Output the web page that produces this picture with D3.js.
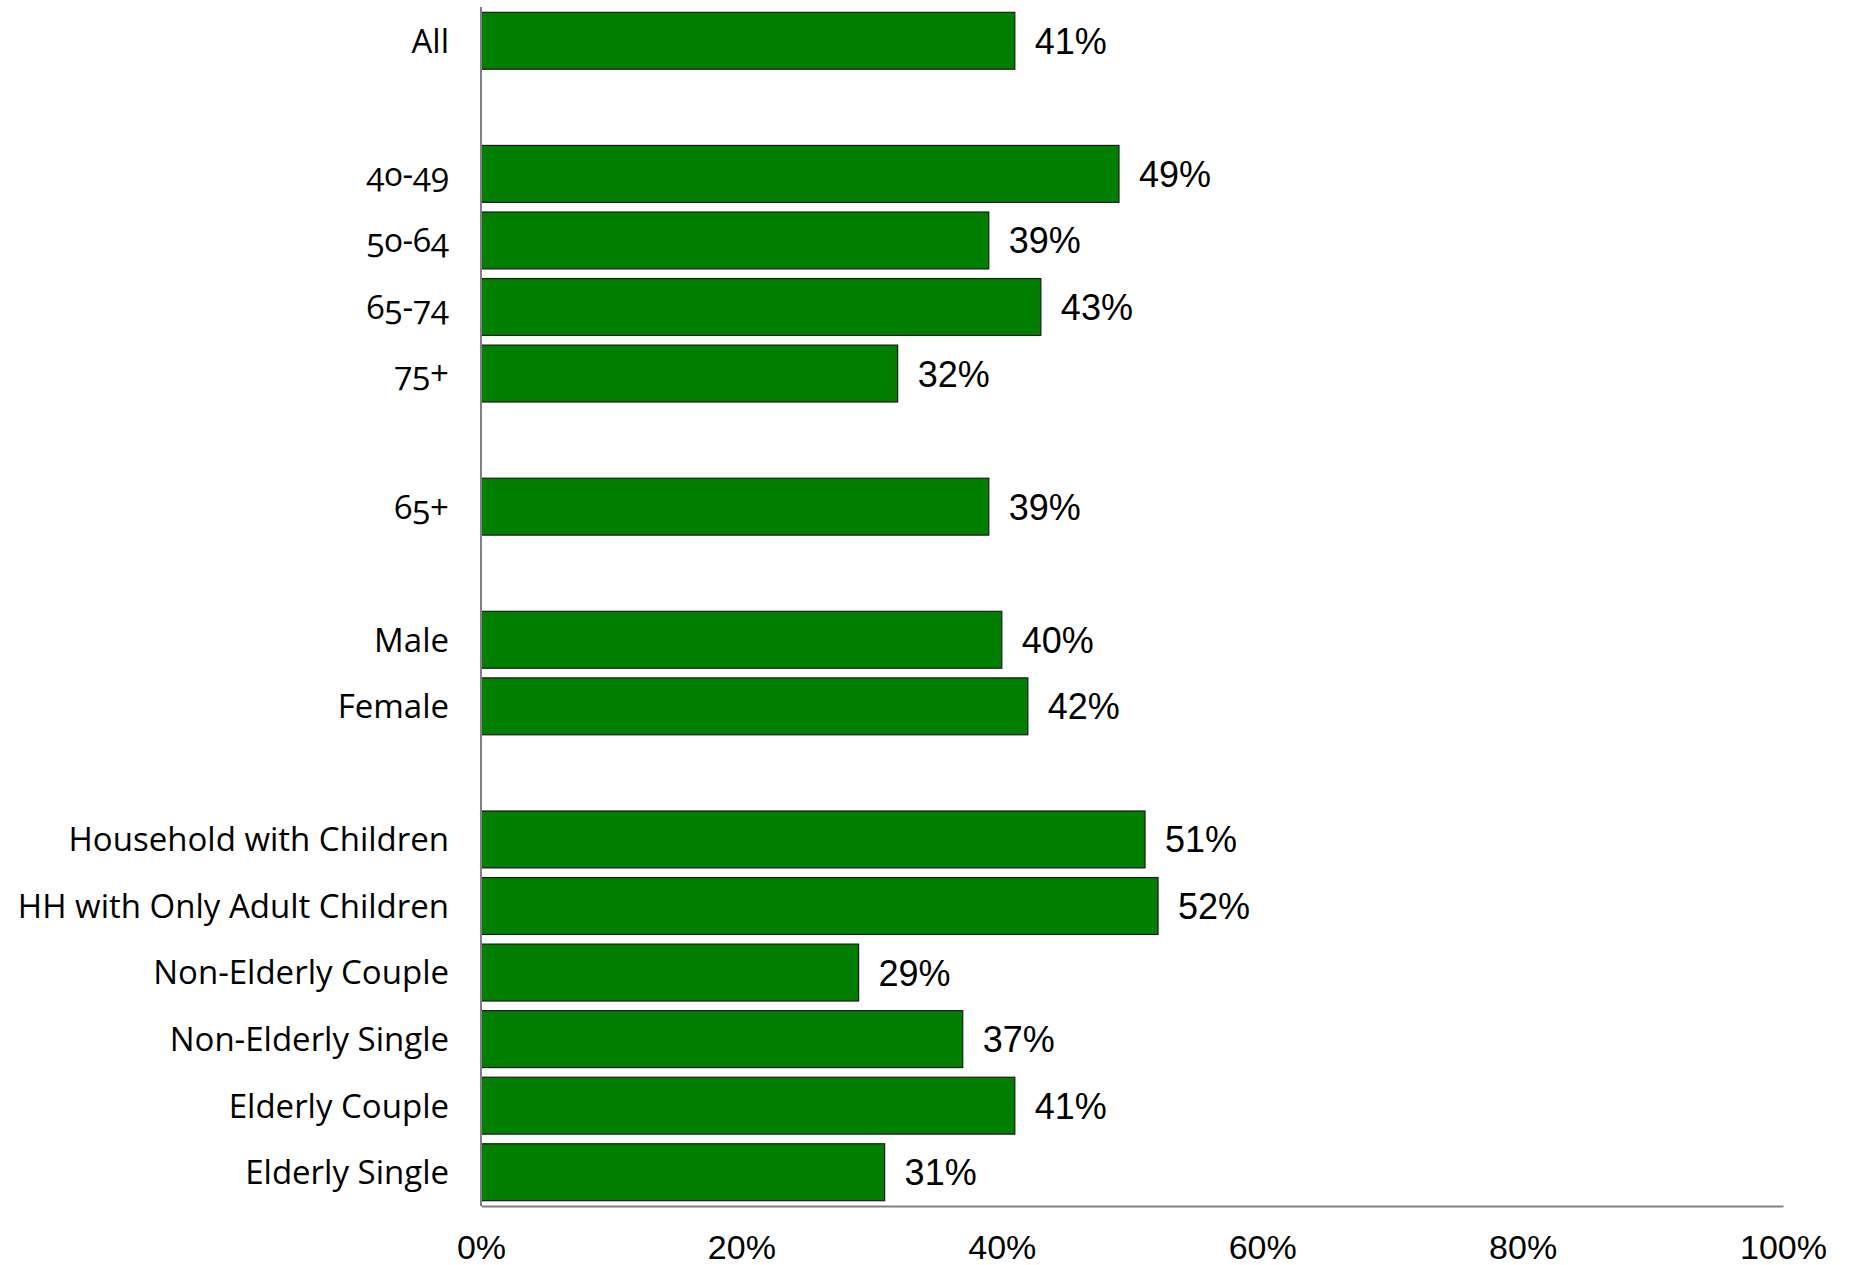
<!DOCTYPE html>
<html>
<head>
<meta charset="utf-8">
<script src="https://cdn.jsdelivr.net/npm/d3@7"></script>
<style>
  body { margin: 0; background: white; }
  .cat { font-family: "Open Sans", "Noto Sans", sans-serif; font-size: 33px; fill: black; font-variant-numeric: oldstyle-nums; font-feature-settings: "onum" 1; }
  .val { font-family: "Liberation Sans", Arial, sans-serif; font-size: 36px; fill: black; }
  .tick text { font-family: "Liberation Sans", Arial, sans-serif; font-size: 34px; fill: black; }
</style>
</head>
<body>
<script>
// rows; the "gap" entries are the blank slots between groups
var categories = ["All", "gap1", "40-49", "50-64", "65-74", "75+", "gap2", "65+", "gap3",
                  "Male", "Female", "gap4", "Household with Children", "HH with Only Adult Children",
                  "Non-Elderly Couple", "Non-Elderly Single", "Elderly Couple", "Elderly Single"];
var values = [41, null, 49, 39, 43, 32, null, 39, null, 40, 42, null, 51, 52, 29, 37, 41, 31];
var tickValues = [0, 20, 40, 60, 80, 100];

var screen = {width: 1851, height: 1265};
var margin = {left: 481, right: 68, top: 7, bottom: 59};

var svg = d3.select("body")
            .append("svg")
            .attr("width", screen.width)
            .attr("height", screen.height);

var x = d3.scaleLinear()
          .domain([0, 100])
          .range([margin.left, screen.width - margin.right]);

var y = d3.scaleBand()
          .domain(categories)
          .range([margin.top, screen.height - margin.bottom])
          .paddingInner(0.145)
          .paddingOuter(0.08);

var rows = categories.map(function(c, i) { return {cat: c, value: values[i]}; })
                     .filter(function(d) { return d.value != null; });

svg.append("g")
   .selectAll("rect")
   .data(rows)
   .enter()
   .append("rect")
   .attr("x", x(0))
   .attr("y", function(d) { return y(d.cat); })
   .attr("width", function(d) { return x(d.value) - x(0); })
   .attr("height", y.bandwidth())
   .attr("fill", "#007f00")
   .attr("stroke", "#1a1a1a")
   .attr("stroke-width", 1.2);

// value labels
svg.append("g")
   .selectAll("text")
   .data(rows)
   .enter()
   .append("text")
   .attr("class", "val")
   .attr("x", function(d) { return x(d.value) + 20; })
   .attr("y", function(d) { return y(d.cat) + y.bandwidth() / 2; })
   .attr("dy", "0.36em")
   .text(function(d) { return d.value + "%"; });

// category labels
svg.append("g")
   .selectAll("text")
   .data(rows)
   .enter()
   .append("text")
   .attr("class", "cat")
   .attr("x", x(0) - 32)
   .attr("y", function(d) { return y(d.cat) + y.bandwidth() / 2; })
   .attr("dy", "0.36em")
   .attr("text-anchor", "end")
   .text(function(d) { return d.cat; });

// axes
svg.append("line")
   .attr("x1", x(0)).attr("x2", x(0))
   .attr("y1", margin.top).attr("y2", screen.height - margin.bottom)
   .attr("stroke", "#808080")
   .attr("stroke-width", 2);

var xAxis = d3.axisBottom(x)
              .tickValues(tickValues)
              .tickSize(0)
              .tickPadding(29)
              .tickFormat(function(d) { return d + "%"; });

var gx = svg.append("g")
            .attr("transform", "translate(0," + (screen.height - margin.bottom) + ")")
            .call(xAxis);

gx.select(".domain")
  .attr("stroke", "#808080")
  .attr("stroke-width", 2);
</script>
</body>
</html>
